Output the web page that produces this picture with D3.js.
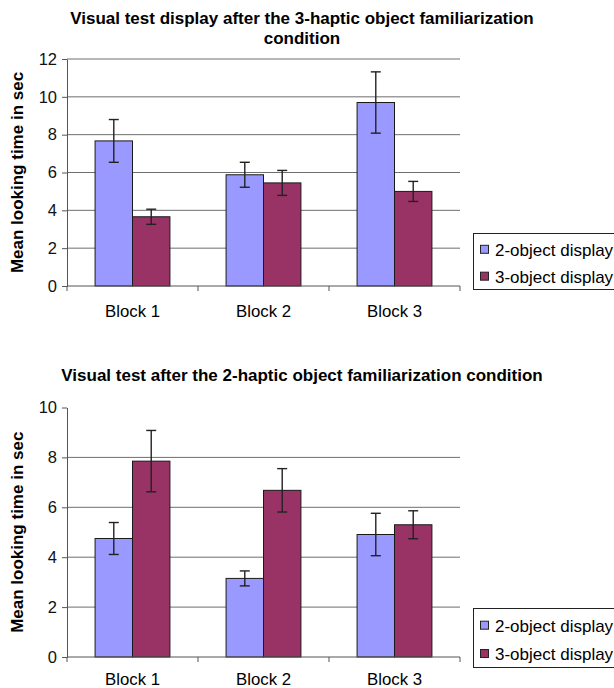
<!DOCTYPE html>
<html>
<head>
<meta charset="utf-8">
<script src="https://cdn.jsdelivr.net/npm/d3@7"></script>
<style>
  body { margin: 0; background: #fff; }
  svg { display: block; font-family: "Liberation Sans", Arial, sans-serif; }
</style>
</head>
<body>
<div id="chart"></div>
<script>
// data
const blocks = ["Block 1", "Block 2", "Block 3"];
const seriesNames = ["2-object display", "3-object display"];

// top chart: after the 3-haptic familiarization
const top2obj = [7.67, 5.88, 9.70];
const top3obj = [3.66, 5.45, 5.00];
const top2err = [1.13, 0.66, 1.62];
const top3err = [0.40, 0.66, 0.53];
const topTicks = [0, 2, 4, 6, 8, 10, 12];

// bottom chart: after the 2-haptic familiarization
const bot2obj = [4.75, 3.15, 4.91];
const bot3obj = [7.85, 6.68, 5.30];
const bot2err = [0.64, 0.30, 0.85];
const bot3err = [1.23, 0.87, 0.56];
const botTicks = [0, 2, 4, 6, 8, 10];

const colors = ["#9999ff", "#993366"];

const svg = d3.select("#chart").append("svg")
  .attr("width", 614)
  .attr("height", 688);

// draws one panel
function drawPanel(opt) {
  const g = svg.append("g");

  // titles
  opt.title.forEach((t, i) => {
    g.append("text")
      .attr("x", 302)
      .attr("y", opt.titleY + i * 20)
      .attr("text-anchor", "middle")
      .style("font-size", "17px")
      .style("font-weight", "bold")
      .text(t);
  });

  const x = d3.scaleBand()
    .domain(blocks)
    .range([67, 460])
    .paddingInner(0.4286)
    .paddingOuter(0.2143);
  const xs = d3.scaleBand()
    .domain(seriesNames)
    .range([0, x.bandwidth()]);
  const y = d3.scaleLinear()
    .domain([0, d3.max(opt.ticks)])
    .range([opt.bottom, opt.top]);

  // grid lines
  g.selectAll(".grid")
    .data(opt.ticks.filter((t) => t > 0 && t <= opt.gridMax))
    .enter().append("line")
    .attr("x1", 67).attr("x2", 460)
    .attr("y1", (d) => y(d)).attr("y2", (d) => y(d))
    .attr("stroke", "#6e6e6e")
    .attr("stroke-width", 1);

  // y axis
  const ya = g.append("g")
    .attr("transform", "translate(67,0)")
    .call(d3.axisLeft(y).tickValues(opt.ticks).tickSize(5).tickSizeOuter(0).tickFormat(d3.format("d")));
  ya.select(".domain").attr("stroke", "#555");
  ya.selectAll(".tick line").attr("stroke", "#555");
  ya.selectAll("text")
    .attr("x", -10)
    .attr("fill", "#111")
    .style("font-size", "16.5px")
    .style("font-family", "'Liberation Sans', Arial, sans-serif");

  // y label
  g.append("text")
    .attr("transform", `translate(23,${(opt.top + opt.bottom) / 2}) rotate(-90)`)
    .attr("text-anchor", "middle")
    .style("font-size", "17px")
    .style("font-weight", "bold")
    .text("Mean looking time in sec");

  // bars
  const rows = [];
  blocks.forEach((b, i) => {
    rows.push({ block: b, s: seriesNames[0], v: opt.a[i], e: opt.ae[i], c: colors[0] });
    rows.push({ block: b, s: seriesNames[1], v: opt.b[i], e: opt.be[i], c: colors[1] });
  });

  g.selectAll(".bar")
    .data(rows)
    .enter().append("rect")
    .attr("x", (d) => x(d.block) + xs(d.s))
    .attr("y", (d) => y(d.v))
    .attr("width", xs.bandwidth())
    .attr("height", (d) => y(0) - y(d.v))
    .attr("fill", (d) => d.c)
    .attr("stroke", "#1a1a1a")
    .attr("stroke-width", 1);

  // x axis line + ticks at category boundaries
  g.append("line")
    .attr("x1", 67).attr("x2", 460)
    .attr("y1", y(0)).attr("y2", y(0))
    .attr("stroke", "#555");
  d3.range(blocks.length + 1).forEach((i) => {
    const xx = 67 + i * x.step();
    g.append("line")
      .attr("x1", xx).attr("x2", xx)
      .attr("y1", y(0)).attr("y2", y(0) + 5)
      .attr("stroke", "#555");
  });
  g.selectAll(".xlab")
    .data(blocks)
    .enter().append("text")
    .attr("x", (d) => x(d) + x.bandwidth() / 2)
    .attr("y", y(0) + opt.labDy)
    .attr("text-anchor", "middle")
    .style("font-size", "16.8px")
    .text((d) => d);

  // error bars
  const eb = g.selectAll(".err")
    .data(rows)
    .enter().append("g")
    .attr("stroke", "#222")
    .attr("stroke-width", 1.4);
  const cx = (d) => x(d.block) + xs(d.s) + xs.bandwidth() / 2;
  eb.append("line")
    .attr("x1", cx).attr("x2", cx)
    .attr("y1", (d) => y(d.v + d.e)).attr("y2", (d) => y(d.v - d.e));
  eb.append("line")
    .attr("x1", (d) => cx(d) - 5).attr("x2", (d) => cx(d) + 5)
    .attr("y1", (d) => y(d.v + d.e)).attr("y2", (d) => y(d.v + d.e));
  eb.append("line")
    .attr("x1", (d) => cx(d) - 5).attr("x2", (d) => cx(d) + 5)
    .attr("y1", (d) => y(d.v - d.e)).attr("y2", (d) => y(d.v - d.e));

  // legend
  const lg = g.append("g").attr("transform", `translate(473,${opt.legY})`);
  lg.append("rect")
    .attr("x", 0.5).attr("y", 0.5)
    .attr("width", 150).attr("height", opt.legH)
    .attr("fill", "#fff")
    .attr("stroke", "#222");
  seriesNames.forEach((s, i) => {
    const yy = opt.legH * (0.3 + i * 0.48);
    lg.append("rect")
      .attr("x", 7.5).attr("y", yy - 4.5)
      .attr("width", 8).attr("height", 8)
      .attr("fill", colors[i])
      .attr("stroke", "#222");
    lg.append("text")
      .attr("x", 22)
      .attr("y", yy + 6)
      .style("font-size", "17px")
      .text(s);
  });
}

drawPanel({
  title: ["Visual test display after the 3-haptic object familiarization", "condition"],
  titleY: 24,
  ticks: topTicks,
  gridMax: 12,
  top: 59,
  bottom: 286,
  labDy: 31,
  a: top2obj, b: top3obj, ae: top2err, be: top3err,
  legY: 233, legH: 56
});

drawPanel({
  title: ["Visual test after the 2-haptic object familiarization condition"],
  titleY: 381,
  ticks: botTicks,
  gridMax: 8,
  top: 407.5,
  bottom: 657,
  labDy: 28,
  a: bot2obj, b: bot3obj, ae: bot2err, be: bot3err,
  legY: 608, legH: 59
});
</script>
</body>
</html>
